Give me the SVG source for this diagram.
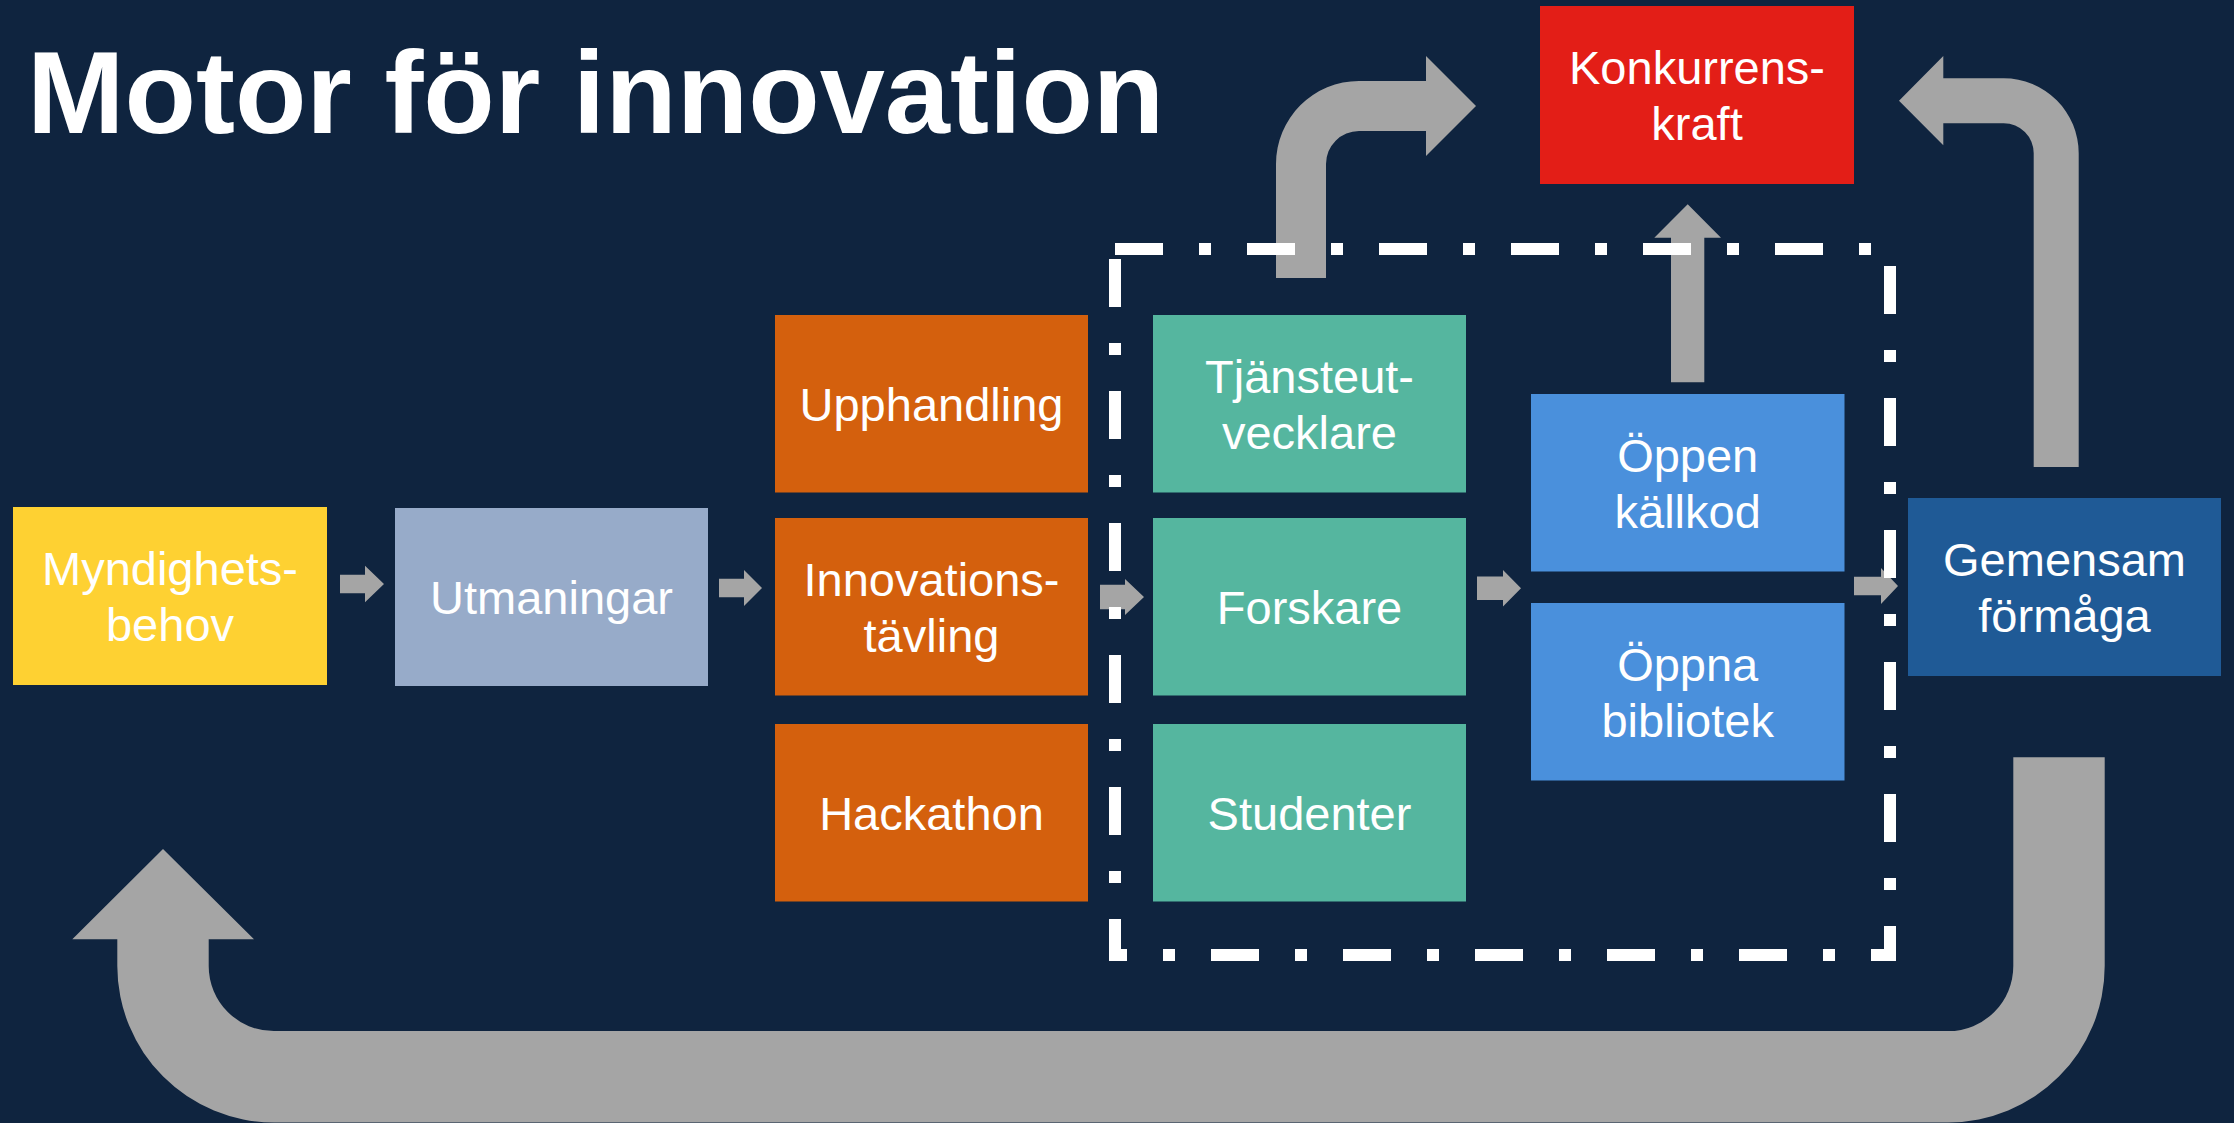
<svg xmlns="http://www.w3.org/2000/svg" width="2234" height="1123" viewBox="0 0 2234 1123">
<style>
.lbl{font-family:"Liberation Sans",Arial,sans-serif;font-size:47px;fill:#FFFFFF;text-anchor:middle}
.title{font-family:"Liberation Sans",Arial,sans-serif;font-size:117px;font-weight:bold;fill:#FFFFFF}
.arr{fill:#A5A5A5}
</style>
<rect x="0" y="0" width="2234" height="1123" fill="#0F243F"/>
<text class="title" x="27" y="133">Motor för innovation</text>
<g id="connectors">
<path class="arr" d="M340,574.8 H365 V565.7 L384,584 L365,602.3 V593.2 H340 Z"/>
<path class="arr" d="M719,578.8 H744 V570 L762,588 L744,606 V597.2 H719 Z"/>
<path class="arr" d="M1100,584.8 H1125 V579 L1144,597 L1125,615 V609.2 H1100 Z"/>
<path class="arr" d="M1477,576.6 H1503 V570 L1521,588.3 L1503,606.6 V600 H1477 Z"/>
<path class="arr" d="M1854,576.7 H1881 V568 L1898,586 L1881,604 V595.3 H1854 Z"/>
<path class="arr" d="M1671,382.3 V237.7 H1654.3 L1687.7,204.3 L1721,237.7 H1704.3 V382.3 Z"/>
<path class="arr" d="M1276,278 V164 A83,83 0 0 1 1359,81 H1426 V56 L1476,106 L1426,156 V131 H1359 A33,33 0 0 0 1326,164 V278 Z"/>
<path class="arr" d="M2078.7,467 V153.3 A75,75 0 0 0 2003.7,78.3 H1943.3 V56 L1899,100.7 L1943.3,145.3 V123.3 H2003.7 A30,30 0 0 1 2033.7,153.3 V467 Z"/>
<path class="arr" d="M2013.3,757.3 H2104.7 V966 A156.4,156.4 0 0 1 1948.3,1122.4 H273.8 A156.5,156.5 0 0 1 117.3,966 V939.3 H72.3 L163,849 L254,939.3 H208.7 V966 A65.1,65.1 0 0 0 273.8,1031.1 H1948.3 A65,65 0 0 0 2013.3,966 Z"/>
</g>
<g id="group-box">
<rect x="1115" y="249" width="775" height="706" fill="none" stroke="#FFFFFF" stroke-width="12" stroke-dasharray="48 36 12 36"/>
</g>
<g id="myndighetsbehov">
<rect x="13" y="507" width="314" height="178" fill="#FED132"/>
<text class="lbl" x="170" y="585">Myndighets-</text>
<text class="lbl" x="170" y="641">behov</text>
</g>
<g id="utmaningar">
<rect x="395" y="508" width="313" height="178" fill="#97ABC9"/>
<text class="lbl" x="551.5" y="614">Utmaningar</text>
</g>
<g id="upphandling">
<rect x="775" y="315" width="313" height="177.5" fill="#D4600D"/>
<text class="lbl" x="931.5" y="421">Upphandling</text>
</g>
<g id="innovationstavling">
<rect x="775" y="518" width="313" height="177.5" fill="#D4600D"/>
<text class="lbl" x="931.5" y="596">Innovations-</text>
<text class="lbl" x="931.5" y="652">tävling</text>
</g>
<g id="hackathon">
<rect x="775" y="724" width="313" height="177.5" fill="#D4600D"/>
<text class="lbl" x="931.5" y="830">Hackathon</text>
</g>
<g id="tjansteutvecklare">
<rect x="1153" y="315" width="313" height="177.5" fill="#55B69F"/>
<text class="lbl" x="1309.5" y="393">Tjänsteut-</text>
<text class="lbl" x="1309.5" y="449">vecklare</text>
</g>
<g id="forskare">
<rect x="1153" y="518" width="313" height="177.5" fill="#55B69F"/>
<text class="lbl" x="1309.5" y="624">Forskare</text>
</g>
<g id="studenter">
<rect x="1153" y="724" width="313" height="177.5" fill="#55B69F"/>
<text class="lbl" x="1309.5" y="830">Studenter</text>
</g>
<g id="oppen-kallkod">
<rect x="1531" y="394" width="313.5" height="177.5" fill="#4A90DC"/>
<text class="lbl" x="1687.7" y="471.5">Öppen</text>
<text class="lbl" x="1687.7" y="527.5">källkod</text>
</g>
<g id="oppna-bibliotek">
<rect x="1531" y="603" width="313.5" height="177.5" fill="#4A90DC"/>
<text class="lbl" x="1687.7" y="680.5">Öppna</text>
<text class="lbl" x="1687.7" y="736.5">bibliotek</text>
</g>
<g id="gemensam-formaga">
<rect x="1908" y="498" width="313" height="178" fill="#1F5A96"/>
<text class="lbl" x="2064.5" y="576">Gemensam</text>
<text class="lbl" x="2064.5" y="632">förmåga</text>
</g>
<g id="konkurrenskraft">
<rect x="1540" y="6" width="314" height="178" fill="#E31E17"/>
<text class="lbl" x="1697" y="84">Konkurrens-</text>
<text class="lbl" x="1697" y="140">kraft</text>
</g>
</svg>
